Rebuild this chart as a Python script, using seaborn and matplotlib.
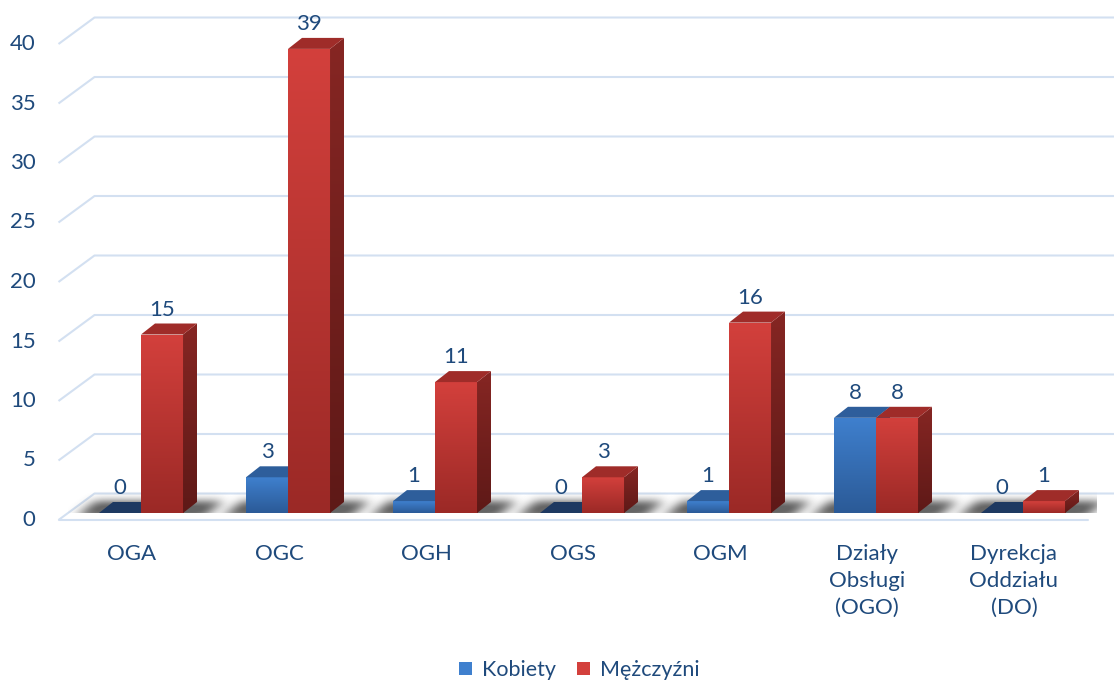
import numpy as np
import pandas as pd
import matplotlib
matplotlib.use("Agg")
import matplotlib.pyplot as plt
import matplotlib.colors as mcolors
import seaborn as sns
from matplotlib.path import Path
from matplotlib.patches import Polygon

# ---- data -------------------------------------------------------------
categories = ["OGA", "OGC", "OGH", "OGS", "OGM",
              "Działy\nObsługi\n(OGO)", "Dyrekcja\nOddziału\n(DO)"]
series = ["Kobiety", "Mężczyźni"]
kobiety = [0, 3, 1, 0, 1, 8, 0]
mezczyzni = [15, 39, 11, 3, 16, 8, 1]
y_ticks = [0, 5, 10, 15, 20, 25, 30, 35, 40]

# ---- style ------------------------------------------------------------
TEXT = "#1F4A7C"
GRID = "#D3E0F1"
front_colors = {"Kobiety": ("#3F80CE", "#2B5A97"), "Mężczyźni": ("#D3403C", "#9B2926")}
side_colors = {"Kobiety": ("#2A5791", "#1F4270"), "Mężczyźni": ("#862623", "#5E1917")}
top_colors = {"Kobiety": "#2E5E9B", "Mężczyźni": "#9F2C29"}
flat_colors = {"Kobiety": "#1E3961", "Mężczyźni": "#A02C29"}
FS = 16

sns.set_theme(style="white")
plt.rcParams["font.family"] = ["Lato", "DejaVu Sans"]

W, H, DPI = 1114, 682, 100
fig = plt.figure(figsize=(W / DPI, H / DPI), dpi=DPI)
fig.patch.set_facecolor("white")
ax = fig.add_axes([67.5 / W, 169 / H, 1029 / W, 476 / H])

df = pd.DataFrame({
    "category": categories * 2,
    "series": [series[0]] * len(categories) + [series[1]] * len(categories),
    "value": kobiety + mezczyzni,
})
palette = {s: front_colors[s][0] for s in series}
sns.barplot(data=df, x="category", y="value", hue="series", hue_order=series,
            palette=palette, width=0.572, saturation=1, edgecolor="none",
            linewidth=0, ax=ax)

ax.set_xlim(-0.5, 6.5)
ax.set_ylim(0, 40)
ax.set_autoscale_on(False)
ax.set_axis_off()

# pseudo-3D offsets in pixels (display coords, y up)
FRONT = np.array([-9.0, -7.0])   # front edge of floor / wall
BACK = np.array([27.0, 19.5])    # back wall
DEPTH = np.array([14.0, 11.0])   # bar depth

def disp(x, y):
    return ax.transData.transform((x, y))

def to_data(p):
    return ax.transData.inverted().transform(p)

def shifted(x, y, off):
    return to_data(disp(x, y) + off)

# ---- walls / gridlines ------------------------------------------------
x_right_edge = to_data((W, 0))[0]
for v in y_ticks:
    a = shifted(-0.5, v, FRONT)
    b = shifted(-0.5, v, BACK)
    ax.plot([a[0], b[0], x_right_edge], [a[1], b[1], b[1]], color=GRID,
            lw=1.5, clip_on=False, zorder=1, solid_capstyle="butt")
    ax.annotate(str(v), xy=(-0.5, v), xytext=(FRONT[0] - 23, FRONT[1]),
                textcoords="offset pixels", ha="right", va="center",
                fontsize=FS, color=TEXT, annotation_clip=False)
f0 = shifted(-0.5, 0, FRONT)
f1 = shifted(6.5, 0, FRONT)
ax.plot([f0[0], f1[0]], [f0[1], f1[1]], color=GRID, lw=1.5, clip_on=False, zorder=1)

# ---- helpers ----------------------------------------------------------
def gradient_fill(pts, c_top, c_bot, z, clip=None):
    pts = np.asarray(pts)
    if clip is None:
        clip = Polygon(pts, closed=True, facecolor="none", edgecolor="none")
        ax.add_patch(clip)
    top = np.array(mcolors.to_rgb(c_top))
    bot = np.array(mcolors.to_rgb(c_bot))
    t = np.linspace(0, 1, 128)[:, None]
    img = (top * (1 - t) + bot * t)[:, None, :]
    im = ax.imshow(img, extent=(pts[:, 0].min(), pts[:, 0].max(),
                                pts[:, 1].min(), pts[:, 1].max()),
                   origin="upper", aspect="auto", zorder=z,
                   interpolation="bilinear")
    im.set_clip_path(clip)
    return im

def blur1d(a, sigma, axis):
    r = int(3 * sigma)
    k = np.exp(-0.5 * (np.arange(-r, r + 1) / sigma) ** 2)
    k /= k.sum()
    return np.apply_along_axis(lambda m: np.convolve(m, k, mode="same"), axis, a)

def floor_shadow(x_left, x_right, z):
    fl = disp(x_left, 0) + np.array([-24.0, -4.0])
    fr = disp(x_right, 0) + np.array([20.0, -4.0])
    back = np.array([20.0, 16.0])
    poly = np.array([fl, fr, fr + back, fl + back])
    pad = 24
    x0, x1 = int(poly[:, 0].min()) - pad, int(poly[:, 0].max()) + pad
    y0, y1 = int(poly[:, 1].min()) - pad, int(poly[:, 1].max()) + pad
    xs, ys = np.meshgrid(np.arange(x0, x1) + 0.5, np.arange(y0, y1) + 0.5)
    mask = Path(poly).contains_points(np.c_[xs.ravel(), ys.ravel()]).reshape(xs.shape)
    m = blur1d(blur1d(mask.astype(float), 4.0, 0), 6, 1)
    rgba = np.zeros(m.shape + (4,))
    rgba[..., :3] = 0.25
    rgba[..., 3] = np.clip(m * 1.1, 0, 1) * 0.8
    d0 = to_data((x0, y0))
    d1 = to_data((x1, y1))
    ax.imshow(rgba, extent=(d0[0], d1[0], d0[1], d1[1]), origin="lower",
              aspect="auto", zorder=z, interpolation="bilinear")

# ---- bars -------------------------------------------------------------
bars_by_series = {s: list(c) for s, c in zip(series, ax.containers)}
for i in range(len(categories)):
    kb = bars_by_series[series[0]][i]
    mb = bars_by_series[series[1]][i]
    floor_shadow(kb.get_x(), mb.get_x() + mb.get_width(), 1.5)

for si, s in enumerate(series):
    zf = 2 + 2 * si
    for bar in bars_by_series[s]:
        x0 = bar.get_x()
        w = bar.get_width()
        h = bar.get_height()
        x1 = x0 + w
        bar.set_zorder(zf)
        if h > 0:
            gradient_fill([(x0, 0), (x1, 0), (x1, h), (x0, h)],
                          front_colors[s][0], front_colors[s][1], zf + 0.01, clip=bar)
            side = [(x1, 0), (x1, h), shifted(x1, h, DEPTH), shifted(x1, 0, DEPTH)]
            gradient_fill(side, side_colors[s][0], side_colors[s][1], zf + 0.02)
            tcol = top_colors[s]
        else:
            tcol = flat_colors[s]
        top = [(x0, h), (x1, h), shifted(x1, h, DEPTH), shifted(x0, h, DEPTH)]
        ax.add_patch(Polygon(top, closed=True, facecolor=tcol, edgecolor="none",
                             zorder=zf + 0.03))
        ax.annotate(f"{int(h)}", xy=(x0 + w / 2, h), xytext=(0, 19),
                    textcoords="offset pixels", ha="center", va="baseline",
                    fontsize=FS, color=TEXT, zorder=10, annotation_clip=False)

# ---- category labels ---------------------------------------------------
for i, lab in enumerate(categories):
    ax.annotate(lab, xy=(i, 0), xytext=(FRONT[0], FRONT[1] - 24),
                textcoords="offset pixels", ha="center", va="top",
                fontsize=FS, color=TEXT, linespacing=1.42,
                annotation_clip=False)

# ---- legend -----------------------------------------------------------
sns.move_legend(ax, "center", bbox_to_anchor=(579.5 / W, 12 / H),
                bbox_transform=fig.transFigure, ncol=2, title=None,
                frameon=False, fontsize=15.5, labelcolor=TEXT,
                handlelength=0.6, handleheight=0.6, handletextpad=0.45,
                columnspacing=1.0)

ax.set_xlim(-0.5, 6.5)
ax.set_ylim(0, 40)
fig.savefig("out.png", dpi=DPI, facecolor="white")
